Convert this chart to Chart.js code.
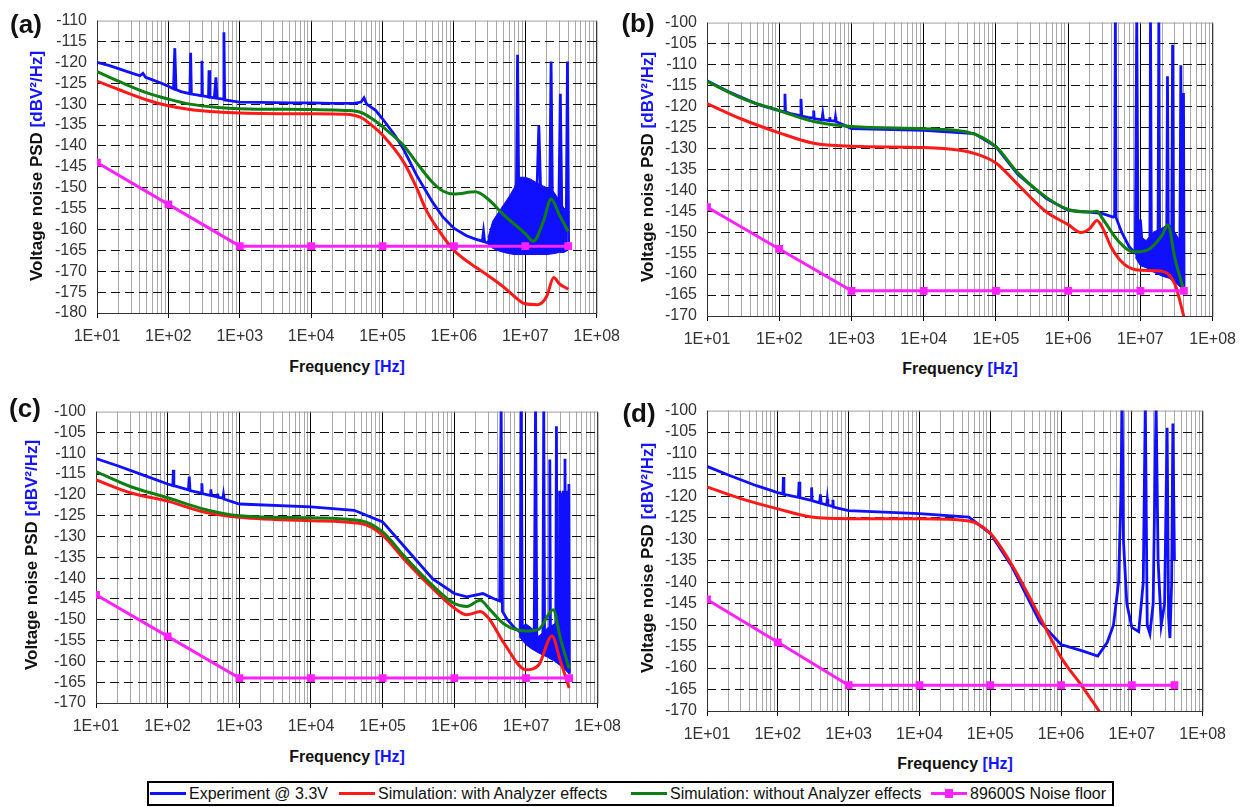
<!DOCTYPE html>
<html>
<head>
<meta charset="utf-8">
<script src="https://cdn.jsdelivr.net/npm/chart.js@4.4.1/dist/chart.umd.min.js"></script>
<style>
  html, body { margin: 0; padding: 0; background: #fff; }
  #page { position: relative; width: 1244px; height: 807px; overflow: hidden; font-family: Arial, "Liberation Sans", sans-serif; color: #111; }
  #page canvas { position: absolute; }
  .tag { position: absolute; font-weight: bold; font-size: 26px; transform: translate(-50%, -50%); }
  .ytitle { position: absolute; font-weight: bold; font-size: 17px; white-space: nowrap; transform: translate(-50%, -50%) rotate(-90deg); }
  .xtitle { position: absolute; font-weight: bold; font-size: 16px; white-space: nowrap; transform: translate(-50%, -50%); }
  .unit { color: #1414ff; }
  #legend { position: absolute; left: 147px; top: 781px; width: 963px; height: 21px; border: 2px solid #000; }
  .lg-item { position: absolute; top: 0; height: 21px; display: flex; align-items: center; font-size: 16px; white-space: nowrap; }
  .lg-line { position: relative; width: 36px; height: 3px; margin-right: 3px; }
  .lg-mark { position: absolute; left: 14px; top: -3px; width: 8px; height: 9px; }
</style>
</head>
<body>
<div id="page"></div>
<script>
// ── Data (frequency in Hz, PSD in dBV²/Hz) ──
const decades = [1e1, 1e2, 1e3, 1e4, 1e5, 1e6, 1e7, 1e8];
const decadeLabels = ['1E+01', '1E+02', '1E+03', '1E+04', '1E+05', '1E+06', '1E+07', '1E+08'];
const mantissas = [1, 2, 3, 4, 5, 6, 7, 8, 9];

const seriesNames = ['Experiment @ 3.3V', 'Simulation: with Analyzer effects', 'Simulation: without Analyzer effects', '89600S Noise floor'];

// 89600S noise floor, same in every panel
const floorF = [10, 100, 1e3, 1e4, 1e5, 1e6, 1e7, 4e7];
const floorV = [-144, -154, -164, -164, -164, -164, -164, -164];

// (a)
const aExpF = [10, 15, 20, 30, 40, 44, 48, 60, 80, 100, 118, 123, 128, 150, 200, 205, 210, 250, 290, 295,
  300, 350, 365, 371, 380, 440, 464, 480, 590, 600, 615, 800, 1000, 2000, 5000, 1e4, 2e4, 4e4, 5e4, 5.5e4,
  6e4, 8e4, 1e5, 1.5e5, 2e5, 3e5, 5e5, 7e5, 1e6, 1.5e6, 2e6, 2.5e6, 2.6e6, 2.7e6, 3e6, 4e6, 5e6, 6e6, 7.5e6, 7.8e6,
  8.1e6, 1e7, 1.45e7, 1.55e7, 1.65e7, 2.2e7, 2.3e7, 2.4e7, 2.95e7, 3.1e7, 3.25e7, 3.75e7, 3.9e7, 4.05e7];
const aExpV = [-120, -120.8, -121.5, -122.5, -123.2, -122.6, -123.6, -124.2, -125, -125.7, -126.3, -116.6, -126.5, -127, -127.5, -117.7, -127.6, -127.8, -128, -119.6,
  -128, -128.2, -128.3, -121.9, -128.3, -128.5, -123.6, -128.6, -128.8, -112.8, -129, -129.3, -129.5, -129.6, -129.7, -129.7, -129.8, -129.8, -129.5, -128.5,
  -130, -131.5, -133.5, -137.5, -141, -147, -153.4, -157, -159.7, -161.5, -162.3, -162.8, -160.5, -163, -163.2, -158, -156, -154, -152, -118.2,
  -152, -155, -152, -135.1, -152, -153, -119.8, -153, -155, -127.5, -155, -158, -119.8, -163];
const aBandF = [3e6, 3.5e6, 4e6, 5e6, 6e6, 7e6, 8e6, 1e7, 1.2e7, 1.5e7, 2e7, 2.5e7, 3e7, 3.5e7, 3.9e7];
const aBandHi = [-162, -158, -156.5, -154, -152, -150, -147.5, -147.5, -148, -149, -150, -151, -153, -155, -159];
const aBandLo = [-163.5, -164.5, -165, -165.5, -165.8, -166, -166, -166, -166, -166, -166, -165.8, -165.5, -165.5, -165];
const aRedF = [10, 20, 50, 100, 200, 500, 1e3, 1e4, 3e4, 5e4, 7e4, 1e5, 2e5, 3e5, 4e5, 6e5, 1e6, 1.5e6, 2e6, 3e6, 5e6, 7e6, 1e7, 1.5e7, 2e7, 2.5e7, 3e7, 4e7];
const aRedV = [-124.5, -126.5, -129, -130.4, -131.3, -131.9, -132.1, -132.3, -132.4, -133.2, -135, -137.4, -144, -150, -155, -160, -165, -167.5, -169, -171, -173.8, -176, -177.8, -178, -176, -171.5, -173, -174.3];
const aGreenF = [10, 20, 50, 100, 200, 500, 1e3, 1e4, 3e4, 5e4, 7e4, 1e5, 2e5, 3e5, 5e5, 7e5, 1e6, 2e6, 3e6, 5e6, 1e7, 1.3e7, 1.8e7, 2.3e7, 3e7, 4e7];
const aGreenV = [-122.2, -124.5, -127.3, -128.8, -130, -130.8, -131.1, -131.3, -131.5, -132, -133.4, -135.4, -140, -144, -148.7, -150.8, -151.5, -151, -152.7, -156.5, -161, -162.8, -158, -152.7, -156.5, -160.5];

// (b)
const bExpF = [10, 20, 50, 100, 118, 120, 122, 150, 195, 200, 205, 250, 295, 300, 305, 390, 400, 410, 490, 500,
  510, 590, 600, 610, 1e3, 1e4, 5e4, 1e5, 2e5, 5e5, 1e6, 2e6, 3e6, 4.2e6, 4.4e6, 4.5e6, 4.6e6, 5.5e6, 7e6, 8.5e6,
  8.9e6, 9.3e6, 1e7, 1.1e7, 1.35e7, 1.38e7, 1.42e7, 1.75e7, 1.8e7, 1.85e7, 2.3e7, 2.37e7, 2.45e7, 2.7e7, 2.79e7, 2.88e7, 3.5e7, 3.63e7, 3.75e7, 3.88e7,
  3.95e7, 4.02e7];
const bExpV = [-113.9, -116.5, -119.5, -121, -121.3, -117, -121.3, -121.8, -122.2, -118.2, -122.3, -122.6, -122.8, -121, -122.9, -123.2, -121.8, -123.2, -123.4, -122.6,
  -123.4, -123.5, -122.6, -123.6, -125.3, -125.7, -126.5, -129.6, -136.2, -142, -144.8, -145.2, -145.6, -146.4, -146, -98, -146.5, -150, -153.5, -155,
  -98, -156, -147, -157, -158, -98, -158, -158, -98, -158, -159, -112.8, -159, -160, -105.3, -160, -161, -110.2, -161, -162,
  -116.8, -163];
const bBandF = [8.5e6, 1e7, 1.2e7, 1.5e7, 2e7, 2.5e7, 3e7, 3.5e7, 4e7];
const bBandHi = [-155, -151, -152, -150, -149, -148, -150, -152, -160];
const bBandLo = [-156, -158, -158.5, -159.5, -160.5, -161, -162, -163, -164];
const bRedF = [10, 30, 100, 300, 1e3, 1e4, 3e4, 5e4, 1e5, 2e5, 5e5, 1e6, 1.5e6, 2e6, 2.5e6, 3e6, 4e6, 6e6, 1e7, 2e7, 3e7, 4.05e7];
const bRedV = [-119.3, -123, -126.3, -128.8, -129.5, -129.8, -130.4, -131.2, -133.5, -138.6, -145.2, -148.2, -150.1, -149.1, -147.2, -149, -153.8, -157.7, -159.1, -159.3, -162.4, -170.5];
const bGreenF = [10, 30, 100, 300, 1e3, 1e4, 4e4, 1e5, 2e5, 5e5, 1e6, 2e6, 2.5e6, 3e6, 5e6, 8e6, 1.2e7, 2e7, 2.4e7, 3e7, 4e7];
const bGreenV = [-114, -118, -121, -123.6, -124.8, -125.3, -126.1, -129.6, -135.8, -141.7, -144.6, -145.2, -145, -146.8, -152.2, -154.7, -154.4, -150.7, -148.2, -156.2, -164];

// (c)
const cExpF = [10, 20, 50, 100, 118, 120, 122, 195, 200, 205, 295, 300, 305, 390, 400, 410, 490, 500, 510, 590,
  600, 610, 1e3, 1e4, 4e4, 1e5, 2e5, 5e5, 1e6, 1.5e6, 2.5e6, 3.5e6, 4.3e6, 4.5e6, 4.7e6, 5.5e6, 7e6, 8.3e6, 8.6e6, 8.9e6,
  1.3e7, 1.36e7, 1.42e7, 1.72e7, 1.77e7, 1.82e7, 2.1e7, 2.15e7, 2.2e7, 2.6e7, 2.66e7, 2.72e7, 2.9e7, 2.95e7, 3.0e7, 3.1e7, 3.2e7, 3.3e7, 3.4e7, 3.5e7,
  3.6e7, 3.7e7, 3.8e7, 3.97e7, 4.04e7];
const cExpV = [-111.3, -113, -115.5, -117.4, -117.8, -114, -117.8, -118.8, -115.6, -119, -119.6, -117.2, -119.7, -120.1, -118.7, -120.2, -120.5, -119.7, -120.6, -120.8,
  -120, -121, -122.2, -122.9, -123.7, -126.5, -132.4, -140.2, -143.7, -144.5, -143.7, -144.9, -145.5, -98, -148, -150, -152, -153, -98, -154,
  -155, -98, -156, -156, -98, -157, -157, -111.5, -157, -158, -103.5, -159, -159, -119, -159, -119.5, -159, -119, -159, -111.3,
  -160, -119, -160, -117.4, -163];
const cBandF = [8e6, 1e7, 1.2e7, 1.5e7, 2e7, 2.5e7, 3e7, 3.5e7, 4e7];
const cBandHi = [-152, -151, -152, -154, -152, -151, -152, -150, -156];
const cBandLo = [-154, -156, -157, -158, -159, -160, -161, -162, -163];
const cRedF = [10, 30, 100, 300, 1e3, 1e4, 5e4, 1e5, 2e5, 5e5, 1e6, 1.5e6, 2.3e6, 3e6, 5e6, 1e7, 1.5e7, 2.3e7, 3e7, 4e7];
const cRedV = [-116.4, -119.5, -121.5, -124, -125.4, -126.2, -126.9, -129.7, -135.5, -142.5, -147.2, -148.8, -148, -149.6, -155.8, -162, -160.9, -153.9, -159.7, -166.4];
const cGreenF = [10, 30, 100, 300, 1e3, 1e4, 5e4, 1e5, 2e5, 5e5, 1e6, 1.5e6, 2.3e6, 3e6, 5e6, 1e7, 1.5e7, 2.4e7, 3e7, 4e7];
const cGreenV = [-114.4, -118, -120.7, -123.3, -125, -125.5, -126.2, -128.9, -134.7, -141.8, -146.1, -146.8, -145.3, -147.2, -151.1, -152.7, -152.3, -147.6, -154.3, -161.7];

// (d)
const dExpF = [10, 20, 50, 100, 118, 120, 122, 195, 200, 205, 295, 300, 305, 390, 400, 410, 490, 500, 510, 590,
  600, 610, 1e3, 1e4, 5e4, 1e5, 2e5, 5e5, 1e6, 2e6, 3.3e6, 4.5e6, 5.5e6, 6.5e6, 7e6, 7.3e6, 7.6e6, 8.5e6, 1e7, 1.25e7,
  1.45e7, 1.55e7, 1.65e7, 1.8e7, 2e7, 2.2e7, 2.35e7, 2.6e7, 2.9e7, 3.15e7, 3.3e7, 3.45e7, 3.65e7, 3.8e7, 4e7];
const dExpV = [-113, -115, -117.5, -119.1, -119.4, -115.5, -119.5, -120.2, -116.6, -120.3, -120.9, -117.9, -121, -121.5, -119.5, -121.6, -122, -120.6, -122, -122.3,
  -120.8, -122.5, -123.3, -124, -124.8, -128.6, -136.2, -149.2, -154.5, -156, -157.2, -154, -150, -140, -120, -98, -130, -145, -150.5, -151.5,
  -140, -98, -150, -152, -145, -98, -135, -150, -145, -104, -148, -153, -140, -103, -135];
const dRedF = [10, 30, 100, 300, 1e3, 1e4, 5e4, 1e5, 2e5, 5e5, 1e6, 2e6, 3.6e6];
const dRedV = [-117.8, -120.5, -122.9, -124.8, -125.2, -125.2, -125.7, -128.6, -135.8, -148, -157.5, -164.3, -170.5];

// ── Styling ──
const FONT = 'Arial, "Liberation Sans", sans-serif';
const BLUE = '#1010ff', RED = '#ff1a1a', GREEN = '#0f7f12', MAGENTA = '#ff22ff';
const AX_W = 60, AX_H = 44, PAD_T = 14, PAD_R = 32;

const PANELS = [
  { tag: '(a)', plot: [97, 15, 597, 313], yMin: -180, yMax: -110, tagAt: [26, 24], yTitleAt: [37, 166], xTitleAt: [347, 367],
    exp: [aExpF, aExpV], band: [aBandF, aBandHi, aBandLo], red: [aRedF, aRedV], green: [aGreenF, aGreenV] },
  { tag: '(b)', plot: [707, 17, 1213, 316], yMin: -170, yMax: -100, tagAt: [638, 23], yTitleAt: [648, 167], xTitleAt: [960, 369],
    exp: [bExpF, bExpV], band: [bBandF, bBandHi, bBandLo], red: [bRedF, bRedV], green: [bGreenF, bGreenV] },
  { tag: '(c)', plot: [96, 406, 598, 703], yMin: -170, yMax: -100, tagAt: [25, 408], yTitleAt: [32, 555], xTitleAt: [347, 757],
    exp: [cExpF, cExpV], band: [cBandF, cBandHi, cBandLo], red: [cRedF, cRedV], green: [cGreenF, cGreenV] },
  { tag: '(d)', plot: [707, 405, 1203, 711], yMin: -170, yMax: -100, tagAt: [639, 413], yTitleAt: [648, 558], xTitleAt: [955, 764],
    exp: [dExpF, dExpV], band: null, red: [dRedF, dRedV], green: null },
];

const pts = (xs, ys) => xs.map((x, i) => ({ x, y: ys[i] }));

function decadeIndex(v) {
  return decades.findIndex(d => Math.abs(d - v) < v * 1e-9);
}

// every grid position: 1..9 × each decade, then 1E+08
const gridFreqs = [];
decades.forEach((d, i) => {
  if (i === decades.length - 1) gridFreqs.push(d);
  else mantissas.forEach(m => gridFreqs.push(m * d));
});

// plot frame: dark left/bottom, grey top/right
const framePlugin = {
  id: 'frame',
  beforeDatasetsDraw(chart) {
    const { ctx, chartArea: a } = chart;
    ctx.save();
    ctx.lineWidth = 1;
    ctx.strokeStyle = '#a0a0a0';
    ctx.beginPath();
    ctx.moveTo(a.left + .5, a.top + .5); ctx.lineTo(a.right + .5, a.top + .5); ctx.lineTo(a.right + .5, a.bottom + .5);
    ctx.stroke();
    ctx.strokeStyle = '#333';
    ctx.beginPath();
    ctx.moveTo(a.left + .5, a.top + .5); ctx.lineTo(a.left + .5, a.bottom + .5); ctx.lineTo(a.right + .5, a.bottom + .5);
    ctx.stroke();
    ctx.restore();
  }
};

function buildPanel(p, page) {
  const [L, T, R, B] = p.plot;
  const cv = document.createElement('canvas');
  cv.width = (R - L) + AX_W + PAD_R;
  cv.height = (B - T) + PAD_T + AX_H;
  cv.style.left = (L - AX_W) + 'px';
  cv.style.top = (T - PAD_T) + 'px';
  page.appendChild(cv);

  const datasets = [{
    data: pts(p.exp[0], p.exp[1]), borderColor: BLUE, borderWidth: 2.8,
    pointRadius: 0, tension: 0, order: 4,
  }];
  if (p.band) {
    datasets.push({
      data: pts(p.band[0], p.band[1]), borderColor: BLUE, backgroundColor: BLUE, borderWidth: 1,
      pointRadius: 0, fill: '+1', order: 5,
    }, {
      data: pts(p.band[0], p.band[2]), borderColor: BLUE, borderWidth: 1,
      pointRadius: 0, fill: false, order: 5,
    });
  }
  datasets.push({
    data: pts(p.red[0], p.red[1]), borderColor: RED, borderWidth: 3,
    pointRadius: 0, cubicInterpolationMode: 'monotone', order: 3,
  });
  if (p.green) {
    datasets.push({
      data: pts(p.green[0], p.green[1]), borderColor: GREEN, borderWidth: 3,
      pointRadius: 0, cubicInterpolationMode: 'monotone', order: 2,
    });
  }
  datasets.push({
    data: pts(floorF, floorV), borderColor: MAGENTA, borderWidth: 3,
    pointStyle: 'rect', pointRadius: 5.5, pointBackgroundColor: MAGENTA, pointBorderWidth: 0, order: 1,
  });

  new Chart(cv, {
    type: 'line',
    data: { datasets },
    options: {
      responsive: false, animation: false, events: [],
      layout: { padding: { top: PAD_T, right: PAD_R, left: 0, bottom: 0 } },
      plugins: { legend: { display: false }, tooltip: { enabled: false } },
      scales: {
        x: {
          type: 'logarithmic', min: 10, max: 1e8,
          afterBuildTicks: s => { s.ticks = gridFreqs.map(v => ({ value: v })); },
          afterFit: s => { s.height = AX_H; },
          ticks: {
            autoSkip: false, maxRotation: 0, minRotation: 0, padding: 9, color: '#333',
            font: { family: FONT, size: 16 },
            callback: v => { const i = decadeIndex(v); return i >= 0 ? decadeLabels[i] : ''; },
          },
          grid: {
            lineWidth: 1, drawTicks: true, tickLength: 5,
            color: c => (c.tick && decadeIndex(c.tick.value) >= 0) ? '#000' : '#a8a8a8',
            tickColor: c => (c.tick && decadeIndex(c.tick.value) >= 0) ? '#000' : 'rgba(0,0,0,0)',
          },
          border: { display: false },
        },
        y: {
          min: p.yMin, max: p.yMax,
          afterFit: s => { s.width = AX_W; },
          ticks: { stepSize: 5, autoSkip: false, padding: 10, color: '#333', font: { family: FONT, size: 16 } },
          grid: {
            lineWidth: 1, drawTicks: false,
            color: c => (c.tick && (c.tick.value === p.yMin || c.tick.value === p.yMax)) ? 'rgba(0,0,0,0)' : '#111',
          },
          border: { display: false, dash: [9, 5] },
        },
      },
    },
    plugins: [framePlugin],
  });

  // titles and panel tag
  const tag = document.createElement('div');
  tag.className = 'tag';
  tag.style.left = p.tagAt[0] + 'px'; tag.style.top = p.tagAt[1] + 'px';
  tag.textContent = p.tag;
  page.appendChild(tag);

  const yt = document.createElement('div');
  yt.className = 'ytitle';
  yt.style.left = p.yTitleAt[0] + 'px'; yt.style.top = p.yTitleAt[1] + 'px';
  yt.innerHTML = 'Voltage noise PSD <span class="unit">[dBV²/Hz]</span>';
  page.appendChild(yt);

  const xt = document.createElement('div');
  xt.className = 'xtitle';
  xt.style.left = p.xTitleAt[0] + 'px'; xt.style.top = p.xTitleAt[1] + 'px';
  xt.innerHTML = 'Frequency <span class="unit">[Hz]</span>';
  page.appendChild(xt);
}

function buildLegend(page) {
  const box = document.createElement('div');
  box.id = 'legend';
  const colors = [BLUE, RED, GREEN, MAGENTA];
  const lefts = [1, 190, 482, 782];
  seriesNames.forEach((name, i) => {
    const item = document.createElement('div');
    item.className = 'lg-item';
    item.style.left = lefts[i] + 'px';
    const mark = i === 3 ? `<span class="lg-mark" style="background:${colors[i]}"></span>` : '';
    item.innerHTML = `<span class="lg-line" style="background:${colors[i]}">${mark}</span>${name}`;
    box.appendChild(item);
  });
  page.appendChild(box);
}

const page = document.getElementById('page');
PANELS.forEach(p => buildPanel(p, page));
buildLegend(page);
</script>
</body>
</html>
